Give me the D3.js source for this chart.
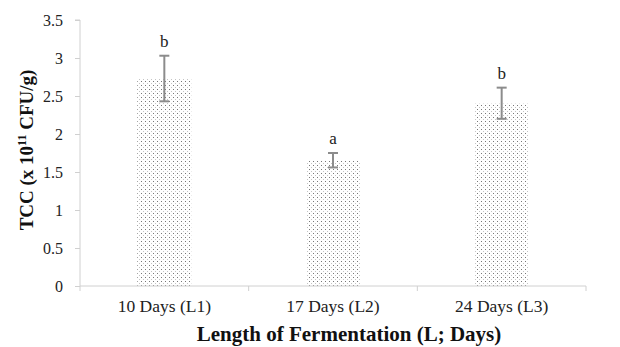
<!DOCTYPE html>
<html>
<head>
<meta charset="utf-8">
<script src="https://cdn.jsdelivr.net/npm/d3@7"></script>
<style>
  body { margin: 0; background: #fff; }
  svg text { font-family: "Liberation Serif", "Times New Roman", "DejaVu Serif", serif !important; }
</style>
</head>
<body>
<div id="chart"></div>
<script>
// Chart data
const categories = ["10 Days (L1)", "17 Days (L2)", "24 Days (L3)"];
const means = [2.73, 1.65, 2.40];
const errLow = [2.43, 1.56, 2.20];
const errHigh = [3.03, 1.75, 2.61];
const letters = ["b", "a", "b"];
const yTicks = [0, 0.5, 1, 1.5, 2, 2.5, 3, 3.5];

const width = 620, height = 347;
const marginLeft = 80, marginRight = 34, marginTop = 20, marginBottom = 61;

const svg = d3.select("#chart").append("svg")
    .attr("width", width)
    .attr("height", height);

// dotted fill like the Excel pattern
const defs = svg.append("defs");
const pat = defs.append("pattern")
    .attr("id", "dots")
    .attr("width", 4).attr("height", 4)
    .attr("patternUnits", "userSpaceOnUse");
pat.append("rect").attr("width", 4).attr("height", 4).attr("fill", "#fff");
pat.append("rect").attr("x", 1).attr("y", 1).attr("width", 1).attr("height", 1).attr("fill", "#777");
pat.append("rect").attr("x", 3).attr("y", 3).attr("width", 1).attr("height", 1).attr("fill", "#c4c4c4");

const x = d3.scaleBand()
    .domain(categories)
    .range([marginLeft, width - marginRight])
    .paddingInner(0.68).paddingOuter(0.34);

const y = d3.scaleLinear()
    .domain([0, 3.5])
    .range([height - marginBottom, marginTop]);

// y axis
const yAxis = svg.append("g")
    .attr("transform", `translate(${marginLeft},0)`)
    .call(d3.axisLeft(y).tickValues(yTicks).tickSize(5).tickPadding(12).tickFormat(d3.format("")));
yAxis.selectAll("text").attr("font-size", 16).attr("fill", "#222");
yAxis.selectAll("line").attr("stroke", "#d0d0d0");
yAxis.select(".domain").attr("stroke", "#d0d0d0").attr("d", `M-5,${y(3.5)}H0V${y(0)}`);

// bars
svg.append("g").selectAll("rect")
    .data(categories)
    .join("rect")
    .attr("x", d => x(d))
    .attr("width", x.bandwidth())
    .attr("y", (d, i) => y(means[i]))
    .attr("height", (d, i) => y(0) - y(means[i]))
    .attr("fill", "url(#dots)");

// x axis with category boundary ticks
const x0 = marginLeft, x1 = width - marginRight;
const xg = svg.append("g");
xg.append("line")
    .attr("x1", x0).attr("x2", x1)
    .attr("y1", y(0)).attr("y2", y(0))
    .attr("stroke", "#d0d0d0");
const bounds = d3.range(categories.length + 1).map(i => x0 + i * (x1 - x0) / categories.length);
xg.selectAll("line.tk")
    .data(bounds)
    .join("line")
    .attr("class", "tk")
    .attr("x1", d => d).attr("x2", d => d)
    .attr("y1", y(0)).attr("y2", y(0) + 5)
    .attr("stroke", "#d0d0d0");
xg.selectAll("text")
    .data(categories)
    .join("text")
    .attr("x", d => x(d) + x.bandwidth() / 2)
    .attr("y", y(0) + 26)
    .attr("text-anchor", "middle")
    .attr("font-size", 17.5)
    .attr("fill", "#222")
    .text(d => d);

// error bars
const eb = svg.append("g").attr("stroke", "#8c8c8c").attr("stroke-width", 2);
categories.forEach((c, i) => {
    const cx = x(c) + x.bandwidth() / 2;
    eb.append("line").attr("x1", cx).attr("x2", cx).attr("y1", y(errLow[i])).attr("y2", y(errHigh[i]));
    eb.append("line").attr("x1", cx - 5).attr("x2", cx + 5).attr("y1", y(errLow[i])).attr("y2", y(errLow[i]));
    eb.append("line").attr("x1", cx - 5).attr("x2", cx + 5).attr("y1", y(errHigh[i])).attr("y2", y(errHigh[i]));
});

// significance letters
svg.append("g").selectAll("text")
    .data(categories)
    .join("text")
    .attr("x", d => x(d) + x.bandwidth() / 2)
    .attr("y", (d, i) => y(errHigh[i]) - 9)
    .attr("text-anchor", "middle")
    .attr("font-size", 17)
    .attr("fill", "#222")
    .text((d, i) => letters[i]);

// axis titles (x title sits a little right of the plot centre, as in the original)
svg.append("text")
    .attr("x", (x0 + x1) / 2 + 16)
    .attr("y", height - 6)
    .attr("text-anchor", "middle")
    .attr("font-size", 21)
    .attr("font-weight", "bold")
    .attr("fill", "#111")
    .text("Length of Fermentation (L; Days)");

const yt = svg.append("text")
    .attr("transform", `translate(33,${(y(0) + y(3.5)) / 2 - 3}) rotate(-90)`)
    .attr("text-anchor", "middle")
    .attr("font-size", 19)
    .attr("font-weight", "bold")
    .attr("fill", "#111");
yt.append("tspan").text("TCC (x 10");
yt.append("tspan").attr("baseline-shift", "super").attr("font-size", 12).text("11");
yt.append("tspan").text(" CFU/g)");
</script>
</body>
</html>
